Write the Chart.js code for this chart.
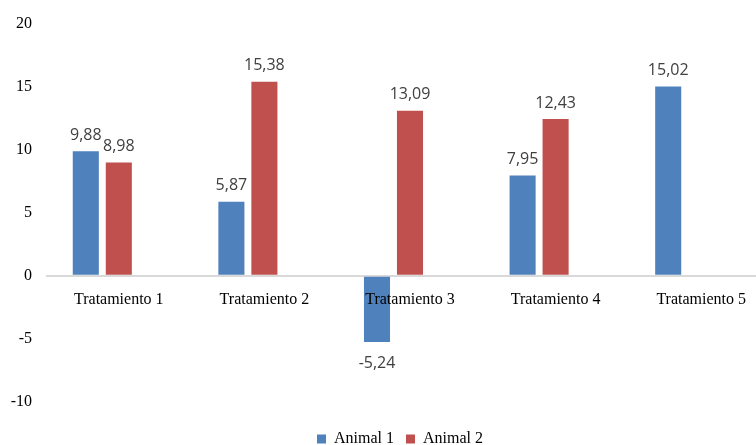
<!DOCTYPE html>
<html>
<head>
<meta charset="utf-8">
<script src="https://cdn.jsdelivr.net/npm/chart.js@4/dist/chart.umd.min.js"></script>
<style>
  html, body { margin: 0; padding: 0; background: #fff; overflow: hidden; }
  #wrap { width: 776px; height: 457px; }
</style>
</head>
<body>
<div id="wrap"><canvas id="myChart"></canvas></div>
<script>
const categories = ['Tratamiento 1', 'Tratamiento 2', 'Tratamiento 3', 'Tratamiento 4', 'Tratamiento 5'];
const animal1 = [9.88, 5.87, -5.24, 7.95, 15.02];
const animal2 = [8.98, 15.38, 13.09, 12.43, null];
// third slot is empty in the original, keeps the bars off-centre like Excel did
const animal3 = [null, null, null, null, null];
const yTicks = { min: -10, max: 20, step: 5 };

const valueLabels = {
  id: 'valueLabels',
  afterDatasetsDraw(chart) {
    const ctx = chart.ctx;
    ctx.save();
    ctx.font = '16px "Open Sans"';
    ctx.fillStyle = '#404040';
    ctx.textAlign = 'center';
    ctx.textBaseline = 'middle';
    chart.data.datasets.forEach((ds, i) => {
      chart.getDatasetMeta(i).data.forEach((bar, j) => {
        const v = ds.data[j];
        if (v == null) return;
        const y = v >= 0 ? bar.y - 16 : bar.y + 21;
        ctx.fillText(v.toFixed(2).replace('.', ','), bar.x, y);
      });
    });
    ctx.restore();
  }
};

// legend sits centred on the plot, not the whole canvas
const shiftLegend = {
  id: 'shiftLegend',
  afterLayout(chart) {
    chart.legend.left += 13;
    chart.legend.right += 13;
  }
};

const serif = { family: '"Liberation Serif", serif', size: 16 };

new Chart(document.getElementById('myChart'), {
  type: 'bar',
  data: {
    labels: categories,
    datasets: [
      { label: 'Animal 1', data: animal1, backgroundColor: '#4F81BD' },
      { label: 'Animal 2', data: animal2, backgroundColor: '#C0504D' },
      { label: 'Animal 3', data: animal3, backgroundColor: '#9BBB59' }
    ]
  },
  options: {
    responsive: true,
    maintainAspectRatio: false,
    animation: false,
    barPercentage: 0.79,
    categoryPercentage: 0.68,
    layout: { padding: { left: 0, top: 4, right: 2, bottom: 0 } },
    plugins: {
      tooltip: { enabled: false },
      legend: {
        position: 'bottom',
        title: { display: true, text: '', font: { size: 10 }, padding: { top: 0, bottom: 5 } },
        labels: {
          filter: item => item.text !== 'Animal 3',
          boxWidth: 9,
          boxHeight: 9,
          padding: 12,
          color: '#000',
          font: serif
        }
      }
    },
    scales: {
      x: {
        position: { y: 0 },
        grid: { display: false },
        border: { display: false },
        ticks: { color: '#000', font: serif, padding: 6, z: 1 }
      },
      y: {
        min: yTicks.min,
        max: yTicks.max,
        border: { display: false },
        grid: {
          color: c => c.tick.value === 0 ? '#d9d9d9' : 'rgba(0,0,0,0)',
          lineWidth: 2,
          drawTicks: false
        },
        ticks: { stepSize: yTicks.step, color: '#000', font: serif, padding: 14 },
        afterFit: s => { s.width = 46; }
      }
    }
  },
  plugins: [valueLabels, shiftLegend]
});
</script>
</body>
</html>
